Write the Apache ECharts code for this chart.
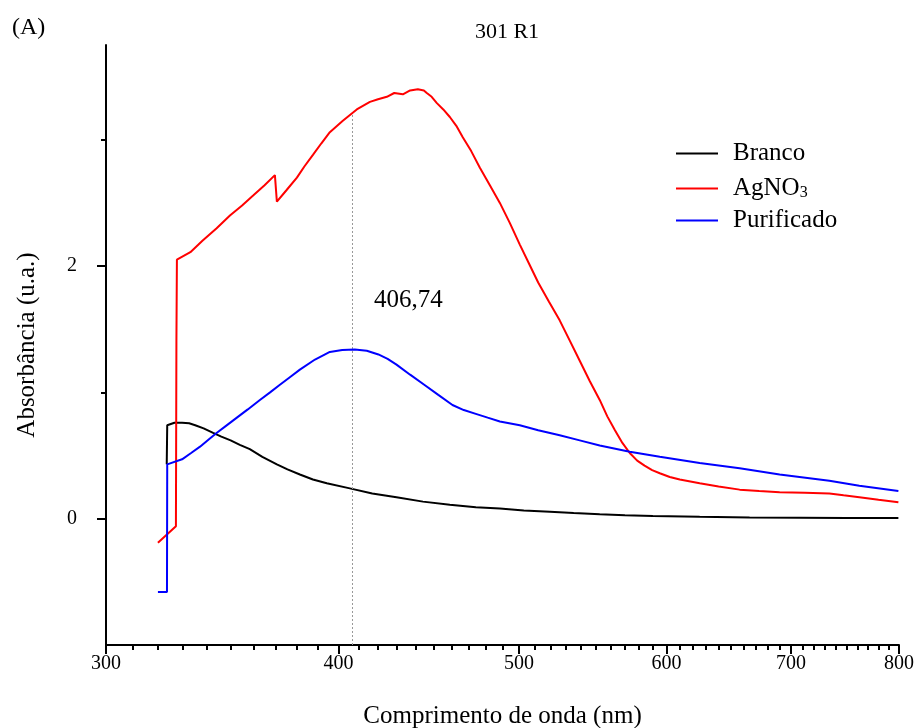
<!DOCTYPE html>
<html>
<head>
<meta charset="utf-8">
<script src="https://cdn.jsdelivr.net/npm/echarts@6/dist/echarts.min.js"></script>
<style>
  html, body { margin: 0; padding: 0; background: #fff; }
  #chart { width: 917px; height: 728px; }
</style>
</head>
<body>
<div id="chart"></div>
<script>
// UV-Vis absorbance spectra, sample 301 R1 (wavelength in nm, absorbance in a.u.)
const branco = [
  [323.4, 0.43], [323.6, 0.74], [326.5, 0.76], [329.6, 0.76], [332.5, 0.755],
  [335.0, 0.74], [338.5, 0.715], [342.5, 0.68], [346.0, 0.65], [350.0, 0.62],
  [354.0, 0.585], [358.4, 0.55], [364.0, 0.49], [370.6, 0.43], [375.5, 0.39],
  [381.3, 0.35], [387.5, 0.31], [394.2, 0.28], [405.6, 0.24], [417.0, 0.20],
  [429.7, 0.17], [444.0, 0.135], [459.0, 0.11], [474.0, 0.09], [488.3, 0.08],
  [503.0, 0.065], [519.5, 0.055], [535.0, 0.045], [552.5, 0.035], [570.0, 0.028],
  [590.0, 0.022], [625.2, 0.015], [665.0, 0.01], [707.3, 0.008], [750.0, 0.006],
  [799.4, 0.005]
];
const agno3 = [
  [319.9, -0.19], [327.1, -0.06], [327.3, 1.40], [327.5, 2.05], [333.0, 2.11],
  [338.0, 2.20], [344.0, 2.30], [349.7, 2.40], [355.0, 2.48], [360.0, 2.56],
  [365.0, 2.64], [369.7, 2.72], [370.6, 2.51], [375.0, 2.60], [379.9, 2.70],
  [383.5, 2.79], [387.5, 2.88], [391.5, 2.97], [395.7, 3.06], [402.1, 3.15],
  [409.1, 3.24], [415.8, 3.30], [420.0, 3.32], [424.6, 3.34], [428.5, 3.37],
  [433.1, 3.36], [437.0, 3.39], [441.2, 3.40], [444.5, 3.39], [446.1, 3.37],
  [448.8, 3.34], [451.7, 3.29], [455.3, 3.24], [459.0, 3.18], [462.7, 3.11],
  [466.4, 3.02], [471.3, 2.91], [476.3, 2.78], [482.3, 2.64], [488.3, 2.50],
  [494.4, 2.34], [500.5, 2.17], [506.2, 2.02], [512.0, 1.87], [518.8, 1.72],
  [525.8, 1.57], [532.4, 1.41], [539.0, 1.25], [545.7, 1.09], [552.5, 0.94],
  [557.7, 0.81], [563.0, 0.70], [568.2, 0.60], [573.4, 0.52], [578.7, 0.46],
  [584.0, 0.42], [589.5, 0.385], [595.1, 0.36], [602.5, 0.33], [610.0, 0.31],
  [625.2, 0.28], [640.0, 0.255], [656.9, 0.23], [673.0, 0.22], [690.2, 0.21],
  [712.0, 0.205], [734.0, 0.20], [747.0, 0.185], [761.7, 0.17], [780.0, 0.15],
  [799.4, 0.13]
];
const purificado = [
  [319.9, -0.58], [323.5, -0.58], [323.6, 0.43], [329.6, 0.47], [333.3, 0.52],
  [337.0, 0.57], [340.5, 0.625], [344.1, 0.68], [348.0, 0.735], [352.0, 0.79],
  [357.5, 0.865], [362.9, 0.94], [367.5, 1.00], [372.0, 1.06], [376.6, 1.12],
  [381.3, 1.18], [388.5, 1.26], [395.7, 1.32], [401.8, 1.335], [408.1, 1.34],
  [414.2, 1.33], [420.2, 1.30], [425.0, 1.265], [429.7, 1.22], [437.0, 1.14],
  [444.7, 1.06], [452.5, 0.98], [460.5, 0.90], [467.0, 0.86], [474.0, 0.83],
  [481.0, 0.80], [488.3, 0.77], [500.5, 0.74], [512.0, 0.70], [525.8, 0.66],
  [539.0, 0.62], [552.5, 0.58], [573.4, 0.53], [595.1, 0.49], [625.2, 0.44],
  [656.9, 0.40], [690.2, 0.35], [734.0, 0.30], [761.7, 0.26], [799.4, 0.22]
];

const peakWavelength = 406.74;
const peakLabel = '406,74';

const xMajorTicks = [300, 400, 500, 600, 700, 800];
const xMinorTicks = [
  310, 320, 330, 340, 350, 360, 370, 380, 390,
  410, 420, 430, 440, 450, 460, 470, 480, 490,
  510, 520, 530, 540, 550, 560, 570, 580, 590,
  610, 620, 630, 640, 650, 660, 670, 680, 690,
  710, 720, 730, 740, 750, 760, 770, 780, 790
];
const yMajorTicks = [0, 2];
const yMinorTicks = [1, 3];

const serif = 'Liberation Serif';
const chart = echarts.init(document.getElementById('chart'), null, { renderer: 'canvas' });

const axisLineStyle = { color: '#000', width: 2 };

chart.setOption({
  animation: false,
  backgroundColor: '#fff',
  title: {
    text: '301 R1',
    left: 502,
    top: 16,
    textAlign: 'center',
    textStyle: { fontFamily: serif, fontSize: 22, fontWeight: 'normal', color: '#000' }
  },
  graphic: [{
    type: 'text',
    left: 12,
    top: 16,
    style: { text: '(A)', font: '24px "Liberation Serif"', fill: '#000' }
  }],
  legend: {
    orient: 'vertical',
    left: 671,
    top: 136,
    itemWidth: 42,
    itemHeight: 2,
    itemGap: 7,
    icon: 'rect',
    data: ['Branco', 'AgNO3', 'Purificado'],
    formatter: function (name) {
      return name === 'AgNO3' ? 'AgNO{sub|3}' : name;
    },
    textStyle: {
      fontFamily: serif, fontSize: 25, lineHeight: 25, color: '#000', padding: [0, 0, 0, 10],
      rich: { sub: { fontFamily: serif, fontSize: 16, lineHeight: 25, verticalAlign: 'bottom', padding: [12, 0, 0, 0] } }
    }
  },
  grid: { left: 106, right: 18, top: 45, bottom: 83, containLabel: false, outerBoundsMode: 'none' },
  xAxis: [{
    type: 'log',
    logBase: 10,
    min: 300,
    max: 800,
    name: 'Comprimento de onda (nm)',
    nameLocation: 'middle',
    nameGap: 59,
    nameTextStyle: { fontFamily: serif, fontSize: 25, color: '#000' },
    axisLine: { show: true, onZero: false, lineStyle: axisLineStyle },
    axisTick: { show: true, inside: false, length: 9, lineStyle: { color: '#000', width: 2 }, customValues: xMajorTicks },
    axisLabel: { show: true, margin: 9, customValues: xMajorTicks, fontFamily: serif, fontSize: 20, color: '#000',
      formatter: function (v) { return String(Math.round(v)); } },
    splitLine: { show: false },
    minorTick: { show: false },
    minorSplitLine: { show: false }
  }, {
    type: 'log',
    logBase: 10,
    min: 300,
    max: 800,
    position: 'bottom',
    axisLine: { show: false, onZero: false },
    axisTick: { show: true, inside: false, length: 5, lineStyle: { color: '#000', width: 2 }, customValues: xMinorTicks },
    axisLabel: { show: false },
    splitLine: { show: false }
  }],
  yAxis: [{
    type: 'value',
    min: -1,
    max: 3.75,
    name: 'Absorbância (u.a.)',
    nameLocation: 'middle',
    nameGap: 66,
    nameTextStyle: { fontFamily: serif, fontSize: 25, color: '#000' },
    axisLine: { show: true, onZero: false, lineStyle: axisLineStyle },
    axisTick: { show: true, inside: false, length: 9, lineStyle: { color: '#000', width: 2 }, customValues: yMajorTicks },
    axisLabel: { show: true, margin: 29, customValues: yMajorTicks, fontFamily: serif, fontSize: 20, color: '#000' },
    splitLine: { show: false }
  }, {
    type: 'value',
    min: -1,
    max: 3.75,
    position: 'left',
    axisLine: { show: false, onZero: false },
    axisTick: { show: true, inside: false, length: 5, lineStyle: { color: '#000', width: 2 }, customValues: yMinorTicks },
    axisLabel: { show: false },
    splitLine: { show: false }
  }],
  series: [{
    name: 'Branco',
    type: 'line',
    data: branco,
    showSymbol: false,
    color: '#000000',
    lineStyle: { width: 2, color: '#000000' },
    z: 3
  }, {
    name: 'AgNO3',
    type: 'line',
    data: agno3,
    showSymbol: false,
    color: '#ff0000',
    lineStyle: { width: 2, color: '#ff0000' },
    z: 4
  }, {
    name: 'Purificado',
    type: 'line',
    data: purificado,
    showSymbol: false,
    color: '#0000ff',
    lineStyle: { width: 2, color: '#0000ff' },
    z: 5,
    markLine: {
      silent: true,
      symbol: ['none', 'none'],
      lineStyle: { color: '#999', type: [2, 2], width: 1 },
      label: { show: false },
      data: [[{ coord: [peakWavelength, -1] }, { coord: [peakWavelength, 3.2] }]]
    },
    markPoint: {
      silent: true,
      symbol: 'circle',
      symbolSize: 0,
      data: [{ coord: [peakWavelength, 1.73], value: peakLabel }],
      label: {
        show: true,
        position: 'right',
        distance: 22,
        formatter: peakLabel,
        fontFamily: serif,
        fontSize: 25,
        color: '#000'
      }
    }
  }]
});
</script>
</body>
</html>
